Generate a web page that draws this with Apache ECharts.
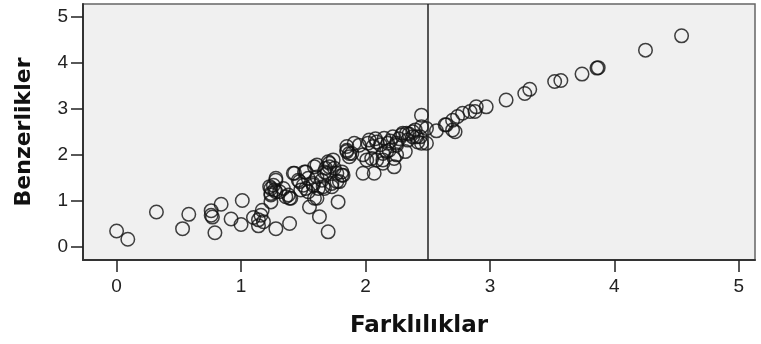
<!DOCTYPE html>
<html>
<head>
<meta charset="utf-8">
<script src="https://cdn.jsdelivr.net/npm/echarts@6/dist/echarts.min.js"></script>
<style>
html, body { margin: 0; padding: 0; background: #fff; }
#chart { width: 761px; height: 344px; }
</style>
</head>
<body>
<div id="chart"></div>
<script>
// Farklılıklar (x) / Benzerlikler (y)
var farkliliklar = [
    0.00, 0.09, 0.32, 0.53, 0.58, 0.76, 0.76, 0.77, 0.84, 0.79, 0.92, 1.01, 1.00, 1.10, 1.14, 1.17, 1.16, 1.14, 1.18, 1.28,
    1.24, 1.28, 1.24, 1.28, 1.39, 1.26, 1.24, 1.31, 1.36, 1.42, 1.40, 1.47, 1.52, 1.55, 1.61, 1.63, 1.70, 1.61, 1.70, 1.71,
    1.67, 1.65, 1.77, 1.81, 1.79, 1.73, 1.66, 1.58, 1.52, 1.78, 1.85, 1.87, 1.91, 1.98, 2.07, 2.23, 2.23, 2.09, 2.14, 2.17,
    2.32, 2.30, 2.38, 2.45, 2.45, 2.41, 2.34, 2.45, 2.57, 2.65, 2.70, 2.70, 2.74, 2.78, 2.84, 2.89, 2.88, 2.97, 3.13, 3.28,
    3.32, 3.52, 3.57, 3.74, 3.86, 3.87, 4.25, 4.54,
    1.85, 1.87, 1.98, 2.02, 2.03, 2.06, 2.09, 2.01, 2.05, 2.15, 2.18, 2.19, 2.22, 2.25, 2.14, 2.25, 2.29, 2.14, 2.40, 2.44,
    2.49, 2.42, 2.49, 2.64, 2.72,
    1.28, 1.43, 1.23, 1.27, 1.24, 1.34, 1.38, 1.39, 1.59, 1.51, 1.59, 1.54, 1.58, 1.50, 1.46, 1.48, 1.54, 1.62, 1.69, 1.71,
    1.74, 1.75, 1.77, 1.81, 1.82, 1.73, 1.67, 1.61, 1.68, 1.85, 1.89, 1.95, 2.08, 2.12, 2.20, 2.27, 2.35, 2.25, 2.33, 2.38
];
var benzerlikler = [
    0.35, 0.17, 0.76, 0.40, 0.71, 0.79, 0.69, 0.65, 0.93, 0.31, 0.61, 1.01, 0.49, 0.64, 0.46, 0.80, 0.69, 0.59, 0.55, 0.40,
    0.98, 1.45, 1.27, 1.20, 0.51, 1.34, 1.16, 1.20, 1.09, 1.60, 1.06, 1.42, 1.63, 0.87, 1.78, 0.66, 0.33, 1.06, 1.85, 1.74,
    1.63, 1.45, 1.60, 1.56, 1.42, 1.38, 1.31, 1.34, 1.27, 0.98, 2.10, 2.03, 2.25, 1.60, 1.60, 1.74, 1.92, 1.89, 1.89, 2.07,
    2.07, 2.47, 2.50, 2.61, 2.25, 2.39, 2.32, 2.86, 2.52, 2.65, 2.54, 2.75, 2.83, 2.90, 2.94, 3.04, 2.94, 3.04, 3.19, 3.33,
    3.42, 3.59, 3.61, 3.75, 3.88, 3.89, 4.27, 4.58,
    2.07, 1.96, 2.00, 2.25, 2.32, 2.18, 2.28, 1.89, 1.92, 2.36, 2.25, 2.10, 2.39, 2.21, 2.03, 2.00, 2.43, 1.82, 2.54, 2.39,
    2.57, 2.28, 2.25, 2.65, 2.50,
    1.49, 1.60, 1.31, 1.24, 1.13, 1.27, 1.13, 1.06, 1.06, 1.63, 1.74, 1.49, 1.38, 1.34, 1.45, 1.24, 1.20, 1.27, 1.60, 1.82,
    1.89, 1.71, 1.42, 1.63, 1.56, 1.31, 1.27, 1.52, 1.71, 2.18, 2.03, 2.21, 2.35, 2.22, 2.30, 2.35, 2.45, 2.25, 2.47, 2.39
];
var tickValues = [0, 1, 2, 3, 4, 5];
var refLineX = 2.5;

var points = [];
for (var i = 0; i < farkliliklar.length; i++) {
    points.push([farkliliklar[i], benzerlikler[i]]);
}

var chart = echarts.init(document.getElementById('chart'));
chart.setOption({
    animation: false,
    backgroundColor: '#ffffff',
    textStyle: { fontFamily: 'Arial, "Liberation Sans", sans-serif' },
    grid: {
        left: 83, right: 6, top: 4, bottom: 84,
        show: true,
        backgroundColor: '#f0f0f0',
        borderColor: '#666',
        borderWidth: 1.5
    },
    xAxis: {
        type: 'value',
        min: -0.27,
        max: 5.13,
        name: 'Farklılıklar',
        nameLocation: 'middle',
        nameGap: 55,
        nameTextStyle: { fontSize: 23, fontWeight: 'bold', color: '#111', fontFamily: '"DejaVu Sans", Arial, sans-serif' },
        splitLine: { show: false },
        axisLine: { onZero: false, lineStyle: { color: '#333', width: 2 } },
        axisTick: { customValues: tickValues, length: 12, lineStyle: { color: '#222', width: 1.5 } },
        axisLabel: { customValues: tickValues, fontSize: 19, color: '#222', margin: 17 }
    },
    yAxis: {
        type: 'value',
        min: -0.28,
        max: 5.27,
        name: 'Benzerlikler',
        nameLocation: 'middle',
        nameGap: 48,
        nameTextStyle: { fontSize: 22, fontWeight: 'bold', color: '#111', fontFamily: '"DejaVu Sans", Arial, sans-serif' },
        splitLine: { show: false },
        axisLine: { onZero: false, lineStyle: { color: '#333', width: 2 } },
        axisTick: { customValues: tickValues, length: 12, lineStyle: { color: '#222', width: 1.5 } },
        axisLabel: { customValues: tickValues, fontSize: 19, color: '#222', margin: 15 }
    },
    series: [{
        type: 'scatter',
        data: points,
        symbol: 'circle',
        symbolSize: 13.5,
        itemStyle: { color: 'rgba(0,0,0,0)', borderColor: '#111', borderWidth: 1.5 },
        markLine: {
            silent: true,
            symbol: 'none',
            label: { show: false },
            lineStyle: { color: '#222', type: 'solid', width: 1.5 },
            data: [{ xAxis: refLineX }]
        }
    }]
});
</script>
</body>
</html>
